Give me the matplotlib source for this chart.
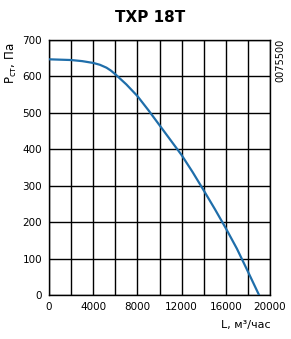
import matplotlib
matplotlib.use('Agg')
import matplotlib.pyplot as plt
import numpy as np

# Kennlinie TXP 18T
L = [0, 2000, 3000, 4000, 4600, 5200, 5600, 6000, 7000, 8000, 9000, 10000, 11000, 12000,
     13000, 14000, 15000, 16000, 17000, 18000, 19000]
P = [647, 645, 642, 637, 632, 624, 616, 606, 578, 546, 507, 466, 425, 384,
     337, 287, 236, 183, 127, 64, 0]

x_ticks = [0, 4000, 8000, 12000, 16000, 20000]
y_ticks = [0, 100, 200, 300, 400, 500, 600, 700]

plt.rcParams['font.family'] = ['DejaVu Sans']

fig = plt.figure(figsize=(2.91, 3.39), dpi=100)
ax = fig.add_axes([0.1684, 0.130, 0.7596, 0.752])

ax.plot(L, P, '-', color='#1f6eaa', lw=1.6, zorder=3)

ax.set_xlim(0, 20000)
ax.set_ylim(0, 700)
ax.set_xticks(np.arange(0, 20001, 2000))
ax.set_xticklabels([str(v) if v in x_ticks else '' for v in np.arange(0, 20001, 2000)])
ax.set_yticks(y_ticks)
ax.grid(True, color='black', lw=1.0)
ax.tick_params(length=0, labelsize=7.5, pad=5)
for s in ax.spines.values():
    s.set_color('black')
    s.set_linewidth(1.0)

fig.text(0.515, 0.947, 'TXP 18T', ha='center', va='center',
         fontsize=11, fontweight='bold')
fig.text(0.04, 0.875, r'Р$_{\mathregular{ст}}$, Па', rotation=90, ha='center', va='top', fontsize=8.5)
fig.text(0.965, 0.885, '0075500', rotation=90, ha='center', va='top', fontsize=7)
fig.text(0.93, 0.04, 'L, м³/час', ha='right', va='center', fontsize=8)

fig.savefig('out.png', dpi=100)
